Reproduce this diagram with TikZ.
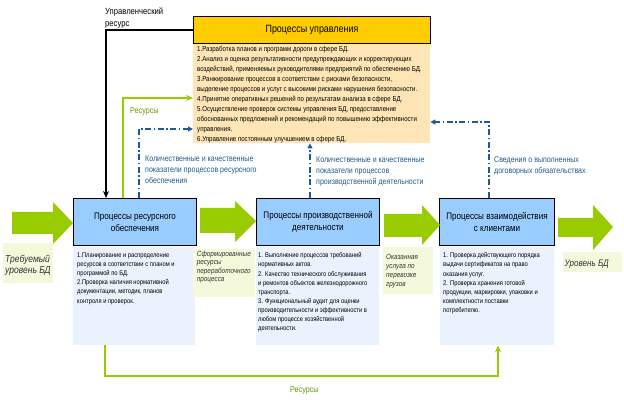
\documentclass[tikz,border=0pt]{standalone}
\usepackage{fontspec}
\setmainfont[FakeStretch=0.85]{Liberation Sans}
\usetikzlibrary{arrows.meta,calc}
\definecolor{gold}{HTML}{FFCC00}
\definecolor{peach}{HTML}{FDE5B5}
\definecolor{boxblue}{HTML}{99CCFF}
\definecolor{descblue}{HTML}{EAF2FD}
\definecolor{lblyellow}{HTML}{F5F9DB}
\definecolor{agreen}{HTML}{99CC00}
\definecolor{tgreen}{HTML}{669900}
\definecolor{dblue}{HTML}{1F5B8E}
\definecolor{tgray}{HTML}{333333}
\tikzset{
  procbox/.style={draw=black, line width=1pt, fill=boxblue, anchor=north west, inner sep=0pt,
    align=center, font=\fontsize{9.5}{11.7}\selectfont},
  descbox/.style={fill=descblue, anchor=north west, inner sep=0pt, minimum height=98pt},
  lblbox/.style={fill=lblyellow, anchor=north west, inner sep=0pt},
  txt/.style={anchor=north west, inner sep=0pt, align=left},
  desctxt/.style={txt, font=\fontsize{6.8}{9.15}\selectfont},
  bluetxt/.style={txt, text=dblue, font=\fontsize{8.3}{11.2}\selectfont},
  itxt/.style={txt, text=tgray, font=\itshape\fontsize{7.5}{8.8}\selectfont},
  blk/.style={draw=black, line width=1.6pt, -{Stealth[length=7pt,width=6pt]}},
  grn/.style={draw=agreen, line width=2pt, -{Stealth[length=7pt,width=6pt]}},
  dsh/.style={draw=dblue, line width=1.2pt, dash pattern=on 6pt off 2.5pt on 1.5pt off 2.5pt,
    -{Triangle[length=5pt,width=5pt]}},
}
\begin{document}
\begin{tikzpicture}[x=1pt,y=-1pt]
\fill[white] (0,0) rectangle (624,403);
\useasboundingbox (0,0) rectangle (624,403);

% management block
\node[fill=peach, anchor=north west, inner sep=0pt, minimum width=237pt, minimum height=100pt] (mgmtbody) at (193,43) {};
\node[draw=black, line width=1pt, fill=gold, anchor=north west, inner sep=0pt, minimum width=237pt, minimum height=27pt,
  font=\fontsize{10.5}{12}\selectfont] (mgmt) at (193,16) {Процессы управления};
\node[txt, font=\fontsize{7.2}{10}\selectfont] (mgmttext) at (197,46.2) {%
1.Разработка планов и программ дороги в сфере БД.\\
2.Анализ и оценка результативности предупреждающих и корректирующих\\
воздействий, применяемых руководителями предприятий по обеспечению БД.\\
3.Ранжирование процессов в соответствии с рисками безопасности,\\
выделение процессов и услуг с высокими рисками нарушения безопасности.\\
4.Принятие оперативных решений по результатам анализа в сфере БД.\\
5.Осуществление проверок системы управления БД, предоставление\\
обоснованных предложений и рекомендаций по повышению эффективности\\
управления.\\
6.Управление постоянным улучшением в сфере БД.};

\node[txt, font=\fontsize{9}{11.7}\selectfont] (mgres) at (105,7.6) {Управленческий\\ресурс};

% process boxes
\node[procbox, minimum width=123pt, minimum height=47pt] (res) at (73,198) {Процессы ресурсного\\обеспечения};
\node[procbox, minimum width=123pt, minimum height=47pt] (prod) at (256,198) {Процессы производственной\\деятельности};
\node[procbox, minimum width=115pt, minimum height=47pt] (cli) at (439,198) {Процессы взаимодействия\\с клиентами};

% description boxes
\node[descbox, minimum width=122pt] (resdesc) at (73,247) {};
\node[descbox, minimum width=123pt] (proddesc) at (256,247) {};
\node[descbox, minimum width=114pt] (clidesc) at (440,247) {};
\node[desctxt] (resdesctxt) at (77,252.5) {1.Планирование и распределение\\ресурсов в соответствии с планом и\\программой по БД.\\2.Проверка наличия нормативной\\документации, методик, планов\\контроля и проверок.};
\node[desctxt] (proddesctxt) at (258,252.5) {1. Выполнение процессов требований\\нормативных актов.\\2. Качество технического обслуживания\\и ремонтов объектов железнодорожного\\транспорта.\\3. Функциональный аудит для оценки\\производительности и эффективности в\\любом процессе хозяйственной\\деятельности.};
\node[desctxt] (clidesctxt) at (443,252.5) {1. Проверка действующего порядка\\выдачи сертификатов на право\\оказания услуг.\\2. Проверка хранения готовой\\продукции, маркировки, упаковки и\\комплектности поставки\\потребителю.};

% label boxes (behind the block arrows)
\node[lblbox, minimum width=50pt, minimum height=40pt] (reqbox) at (3,243) {};
\node[lblbox, minimum width=62pt, minimum height=48pt] (formedbox) at (193,249) {};
\node[lblbox, minimum width=50pt, minimum height=47pt] (servbox) at (383,247) {};
\node[lblbox, minimum width=59pt, minimum height=20pt] (levelbox) at (563,252) {};

% block arrows
\fill[agreen] (12,212) -- (53,212) -- (53,202) -- (73,223) -- (53,244) -- (53,234) -- (12,234) -- cycle;
\fill[agreen] (200,208) -- (235,208) -- (235,201) -- (256,221) -- (235,242) -- (235,233) -- (200,233) -- cycle;
\fill[agreen] (384,214) -- (422,214) -- (422,205) -- (440,225) -- (422,245) -- (422,237) -- (384,237) -- cycle;
\fill[agreen] (558,218) -- (593,218) -- (593,205) -- (613,227) -- (593,250) -- (593,237) -- (558,237) -- cycle;

% label texts
\node[txt, text=tgray, font=\itshape\fontsize{10}{10.5}\selectfont] (req) at (5,255) {Требуемый\\уровень БД};
\node[itxt, font=\itshape\fontsize{7.5}{8.6}\selectfont] (formed) at (196.7,250.5) {Сформированные\\ресурсы\\переработочного\\процесса};
\node[itxt, font=\itshape\fontsize{7.5}{9}\selectfont] (serv) at (386,253.8) {Оказанная\\услуга по\\перевозке\\грузов};
\node[txt, text=tgray, font=\itshape\fontsize{9.5}{11}\selectfont] (level) at (564.3,259.7) {Уровень БД};

% blue labels
\node[bluetxt] (lab1) at (145,155.6) {Количественные и качественные\\показатели процессов ресурсного\\обеспечения};
\node[bluetxt, font=\fontsize{8.3}{11}\selectfont] (lab2) at (316,156.2) {Количественные и качественные\\показатели процессов\\производственной деятельности};
\node[bluetxt, font=\fontsize{8.3}{11.3}\selectfont] (lab3) at (494,156.6) {Сведения о выполненных\\договорных обязательствах};

% green labels
\node[txt, text=tgreen, font=\fontsize{8.5}{10}\selectfont] (reslab1) at (130,107) {Ресурсы};
\node[txt, text=tgreen, font=\fontsize{8.5}{10}\selectfont] (reslab2) at (290,386.2) {Ресурсы};

% connectors
\draw[blk] (mgmt.west) -| ([xshift=33pt]res.north west);
\draw[grn] ([xshift=50pt]res.north west) |- ([yshift=-55pt]mgmtbody.north west);
\draw[dsh] ([xshift=66pt]res.north west) |- ([yshift=-86pt]mgmtbody.north west);
\coordinate (p1) at ([xshift=54pt]prod.north west);
\draw[dsh] (p1) -- (p1 |- mgmtbody.south);
\draw[dsh] ([xshift=50pt]cli.north west) |- ([yshift=-79pt]mgmtbody.north east);
\coordinate (b1) at ([xshift=32pt]resdesc.south west);
\coordinate (b2) at ([xshift=58pt]clidesc.south west);
\draw[grn] (b1) -- ++(0,31) -| (b2);
\end{tikzpicture}
\end{document}
